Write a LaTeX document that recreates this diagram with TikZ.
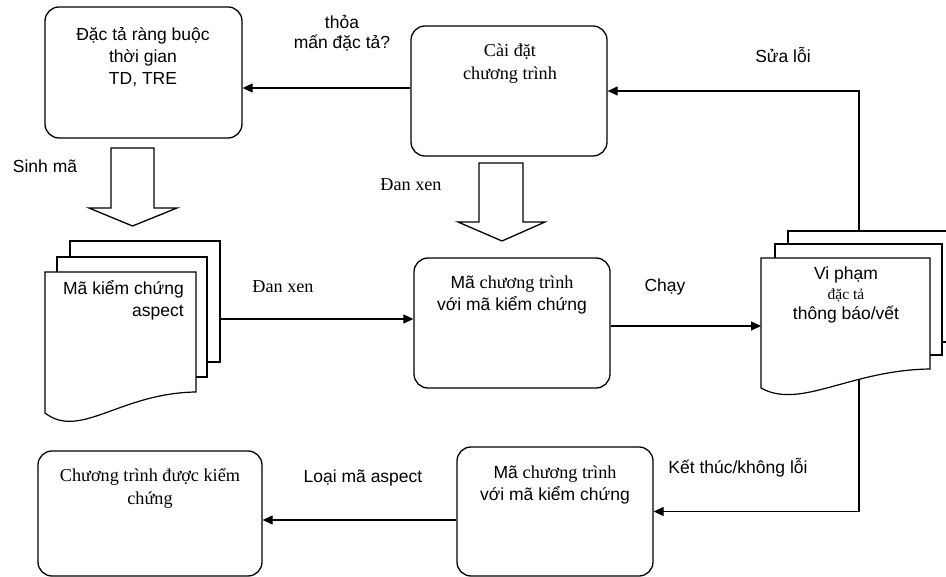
\documentclass[tikz,border=0pt]{standalone}
\usepackage{fontspec}
\setmainfont{Liberation Sans}
\newfontfamily\serifvn{Liberation Serif}
\usetikzlibrary{arrows.meta}
\newcommand\myfs{\fontsize{17.5}{22}\selectfont}
\newcommand\myserfs{\fontsize{18.2}{22.5}\selectfont}
\newcommand\mysfs{\fontsize{15.5}{20}\selectfont}
\tikzset{
  box/.style={draw, rounded corners=14pt, fill=white, line width=1.3pt, inner sep=0pt},
  page/.style={draw, fill=white, line width=1.2pt, inner sep=0pt},
  conn/.style={line width=1.2pt, -{Triangle[length=10pt,width=9pt]}},
  lbl/.style={inner sep=0pt, align=center, font=\myfs},
  serlbl/.style={inner sep=0pt, align=center, font=\myserfs\serifvn},
  blockarrow/.style={draw, fill=white, line width=1.3pt, line join=miter}
}
\begin{document}
\begin{tikzpicture}[x=1pt,y=-1pt]
\useasboundingbox[fill=white] (0,0) rectangle (946,577);

% boxes
\node[box, minimum width=197pt, minimum height=131pt] (b1) at (143.5,72.5) {};
\node[box, minimum width=196pt, minimum height=130pt] (b2) at (509,91) {};
\node[box, minimum width=196pt, minimum height=130pt] (b3) at (512,323) {};
\node[box, minimum width=196pt, minimum height=129pt] (b5) at (555,511.5) {};
\node[box, minimum width=224pt, minimum height=125pt] (b6) at (150,513.5) {};

% document stack 1
\node[page, minimum width=150pt, minimum height=121pt] (d1back) at (145,301.5) {};
\node[page, minimum width=150pt, minimum height=120pt] (d1mid) at (132,317) {};
\draw[page] (45,272) -- (196,272) -- (196,392) .. controls (120,393) and (80,440) .. (45,413) -- cycle;

% document stack 2
\node[page, minimum width=170pt, minimum height=111pt] (d2back) at (873,286.5) {};
\node[page, minimum width=167pt, minimum height=111pt] (d2mid) at (858.5,299.5) {};
\draw[page] (761,258) -- (930,258) -- (930,369) .. controls (850,370) and (800,410) .. (761,388) -- cycle;

% block arrows
\draw[blockarrow] (111,148) -- (154,148) -- (154,208) -- (177,208) -- (132.5,226) -- (89,208) -- (111,208) -- cycle;
\draw[blockarrow] (479,163) -- (523,163) -- (523,222) -- (545,222) -- (502,241) -- (458,222) -- (479,222) -- cycle;

% coordinates for connectors
\coordinate (j1) at (0,319);
\coordinate (dx) at (283,319);
\coordinate (d2l) at (761,326);
\coordinate (d2top) at (859,231);
\coordinate (d2bot) at (859,380);

% connectors
\draw[conn] (b2.west |- 0,88) -- (b1.east |- 0,88);
\draw[conn] (d2top) |- (b2.east);
\draw[conn] (d1back.east |- j1) -- (b3.west |- j1);
\draw[line width=2.4pt] (d1back.east |- j1) -- (dx);
\draw[conn] (b3.east |- d2l) -- (d2l);
\draw[conn] (d2bot) |- (b5.east);
\draw[conn] (b5.west |- 0,520) -- (b6.east |- 0,520);

% texts
\node[lbl] (t1) at (143,57.5) {Đặc tả ràng buộc\\thời gian\\TD, TRE};
\node[lbl, font=\fontsize{17.5}{20}\selectfont] (tq) at (342,33) {thỏa\\mấn đặc tả?};
\node[serlbl] (t2) at (510,63.5) {Cài đặt\\chương trình};
\node[lbl] (tsua) at (783,55) {Sửa lỗi};
\node[lbl] (tsinh) at (45,166) {Sinh mã};
\node[serlbl] (tdan1) at (411,185) {Đan xen};
\node[lbl, align=right, anchor=east] (td1) at (184,300) {Mã kiểm chứng\\aspect};
\node[serlbl] (tdan2) at (283,287) {Đan xen};
\node[lbl] (t3) at (512,295) {Mã {\myserfs\serifvn chương trình}\\với mã kiểm chứng};
\node[lbl] (tchay) at (665,287) {Chạy};
\node[lbl, font=\fontsize{17.5}{20}\selectfont] (td2) at (846,295) {Vi phạm\\{\mysfs\serifvn đặc tả}\\thông báo/vết};
\node[lbl] (tket) at (738,468) {Kết thúc/không lỗi};
\node[lbl] (t5) at (555,484.5) {Mã {\myserfs\serifvn chương trình}\\với mã kiểm chứng};
\node[lbl] (tloai) at (363,478) {Loại mã aspect};
\node[serlbl] (t6) at (150,488.5) {Chương trình được kiểm\\chứng};
\end{tikzpicture}
\end{document}
